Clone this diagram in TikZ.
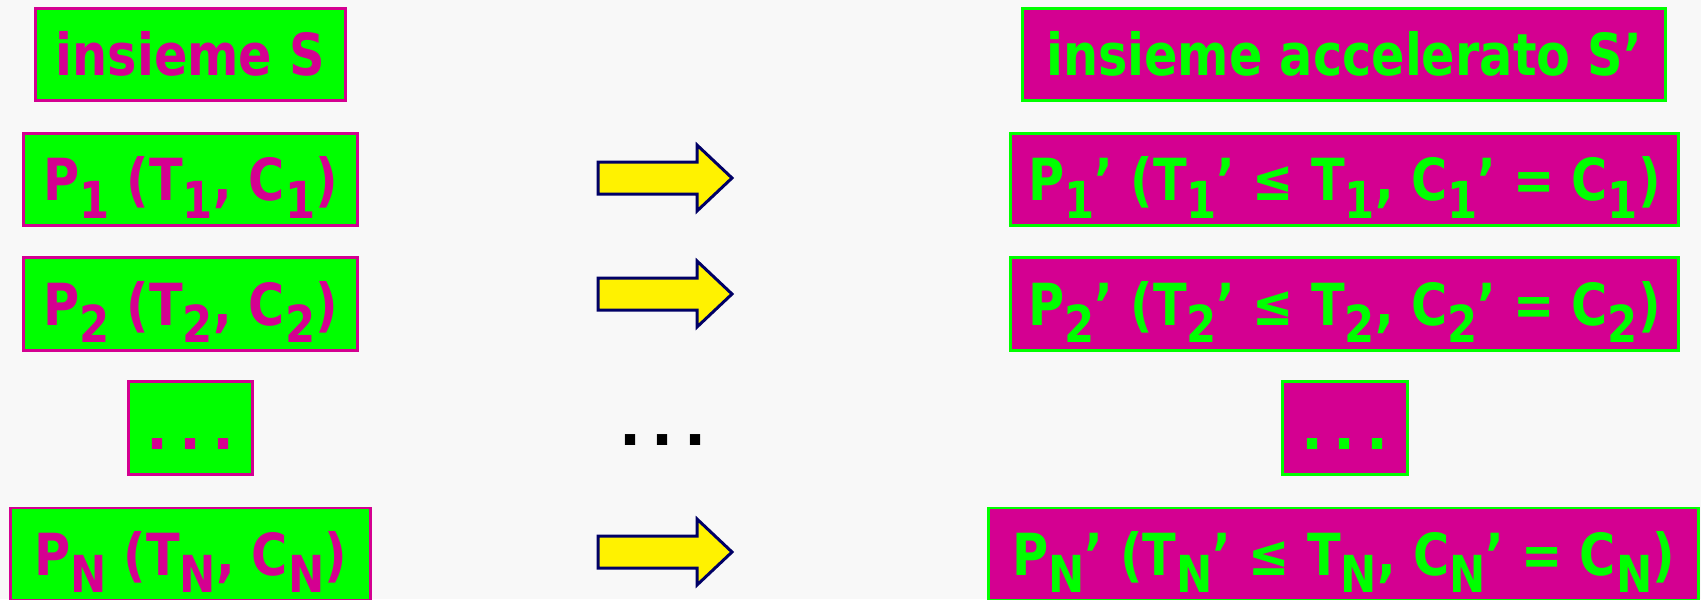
\documentclass[tikz,border=0pt]{standalone}
\usepackage{fontspec}
\setmainfont{DejaVu Sans}
\definecolor{boxgreen}{RGB}{0,255,0}
\definecolor{boxmag}{RGB}{212,0,145}
\definecolor{pagebg}{RGB}{248,248,248}
\definecolor{arrowline}{RGB}{0,0,102}
% lowered, slightly smaller index digits
\newcommand\idx[1]{\raisebox{-0.3em}{\fontsize{14.5}{14.5}\selectfont #1}}
% horizontally narrowed label text
\newcommand\nar[1]{\scalebox{0.85}[1]{#1}}
% spaced ellipsis
\newcommand\sdots{.\hspace{3pt}.\hspace{3pt}.}
\begin{document}
\begin{tikzpicture}[x=0.01cm,y=-0.01cm,
  every node/.style={inner sep=0pt, outer sep=0pt, font=\fontsize{16.5}{16.5}\selectfont\bfseries,
    text height=12.2pt, text depth=0pt, minimum height=0.92cm},
  origbox/.style={draw=boxmag, fill=boxgreen, text=boxmag, line width=0.85pt},
  fastbox/.style={draw=boxgreen, fill=boxmag, text=boxgreen, line width=0.85pt},
  blockarrow/.style={draw=arrowline, fill=yellow, line width=0.85pt, line join=miter}]
\fill[pagebg] (0,0) rectangle (1701,599);
\useasboundingbox (0,0) rectangle (1701,599);

% left column: the original set
\node[origbox, minimum width=3.09cm] (hS) at (190.5,54.5) {\nar{insieme S}};
\node[origbox, minimum width=3.33cm] (p1) at (190.5,179.5) {\nar{P\idx{1} (T\idx{1}, C\idx{1})}};
\node[origbox, minimum width=3.33cm] (p2) at (190.5,304) {\nar{P\idx{2} (T\idx{2}, C\idx{2})}};
\node[origbox, minimum width=1.23cm] (dl) at (190.5,428) {\sdots};
\node[origbox, minimum width=3.59cm] (pN) at (190.5,554) {\nar{P\idx{N} (T\idx{N}, C\idx{N})}};

% right column: the accelerated set
\node[fastbox, minimum width=6.42cm] (hA) at (1344,54.5) {\nar{insieme accelerato S'}};
\node[fastbox, minimum width=6.67cm] (q1) at (1344.5,179.5) {\nar{P\idx{1}' (T\idx{1}' ≤ T\idx{1}, C\idx{1}' = C\idx{1})}};
\node[fastbox, minimum width=6.67cm] (q2) at (1344.5,304) {\nar{P\idx{2}' (T\idx{2}' ≤ T\idx{2}, C\idx{2}' = C\idx{2})}};
\node[fastbox, minimum width=1.24cm] (dr) at (1345,428) {\sdots};
\node[fastbox, minimum width=7.09cm] (qN) at (1343.5,554) {\nar{P\idx{N}' (T\idx{N}' ≤ T\idx{N}, C\idx{N}' = C\idx{N})}};

% block arrows between the columns
\foreach \r/\yy in {a1/178, a2/294, aN/552} {
  \coordinate (\r) at (598,\yy);
  \draw[blockarrow] (\r) ++(0,-16) -- ++(99,0) -- ++(0,-17) -- ++(35,33)
    -- ++(-35,33) -- ++(0,-17) -- ++(-99,0) -- cycle;
}
\node[text=black, minimum height=0cm, text height=0pt] (md) at (663,445) {\sdots};
\end{tikzpicture}
\end{document}
